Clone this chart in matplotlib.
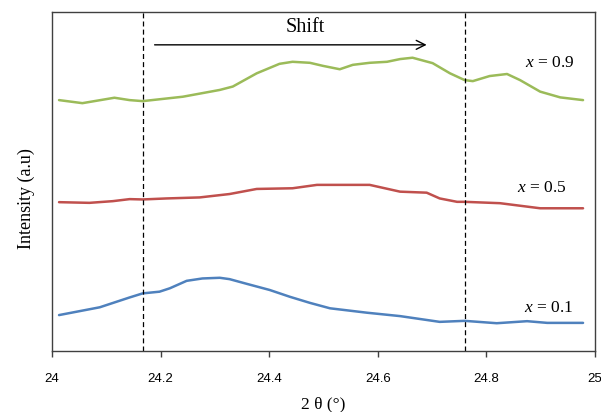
#!/usr/bin/env python3
"""XRD peak shift around 24-25 degrees for three compositions."""

import matplotlib

matplotlib.use("Agg")

import matplotlib.pyplot as plt

# 2theta positions (deg) and intensities (a.u.)
theta_09 = [24.013, 24.056, 24.115, 24.143, 24.167, 24.241, 24.309, 24.333, 24.377,
            24.419, 24.443, 24.475, 24.499, 24.530, 24.554, 24.585, 24.617, 24.641,
            24.664, 24.701, 24.733, 24.760, 24.775, 24.806, 24.838, 24.862, 24.899,
            24.936, 24.978]
int_09 = [74.0, 73.1, 74.7, 74.0, 73.7, 75.0, 77.0, 78.0, 81.9,
          84.7, 85.3, 85.0, 84.1, 83.1, 84.4, 85.0, 85.3, 86.1,
          86.5, 84.9, 81.9, 79.9, 79.6, 81.1, 81.7, 79.9, 76.5,
          74.8, 74.0]

theta_05 = [24.013, 24.069, 24.112, 24.143, 24.167, 24.211, 24.272, 24.327, 24.377,
            24.443, 24.488, 24.535, 24.585, 24.641, 24.690, 24.714, 24.746, 24.760,
            24.825, 24.899, 24.978]
int_05 = [43.9, 43.7, 44.2, 44.8, 44.7, 45.0, 45.3, 46.3, 47.8,
          48.0, 49.0, 49.0, 49.0, 47.0, 46.7, 45.0, 44.0, 44.0,
          43.6, 42.1, 42.1]

theta_01 = [24.013, 24.088, 24.143, 24.167, 24.198, 24.217, 24.248, 24.277, 24.309,
            24.327, 24.359, 24.401, 24.438, 24.475, 24.512, 24.580, 24.641, 24.714,
            24.760, 24.819, 24.875, 24.912, 24.978]
int_01 = [10.6, 12.9, 15.8, 17.0, 17.5, 18.5, 20.7, 21.4, 21.6,
          21.2, 19.8, 18.0, 16.0, 14.2, 12.6, 11.3, 10.3, 8.6,
          8.9, 8.2, 8.8, 8.3, 8.3]

series = [
    (theta_09, int_09, "#9bbb59", "$x$ = 0.9", 24.917, 85.0),
    (theta_05, int_05, "#c0504d", "$x$ = 0.5", 24.902, 48.1),
    (theta_01, int_01, "#4f81bd", "$x$ = 0.1", 24.915, 12.7),
]

peak_lines = [24.167, 24.760]
shift_start, shift_end = 24.189, 24.690
x_ticks = [24, 24.2, 24.4, 24.6, 24.8, 25]
x_tick_labels = ["24", "24.2", "24.4", "24.6", "24.8", "25"]

plt.rcParams["mathtext.fontset"] = "custom"
plt.rcParams["mathtext.rm"] = "Liberation Serif"
plt.rcParams["mathtext.it"] = "Liberation Serif:italic"

SERIF = "Liberation Serif"

fig = plt.figure(figsize=(6.01, 4.12), dpi=100)
ax = fig.add_axes([0.0865, 0.148, 0.9035, 0.823])

for theta, inten, color, label, lx, ly in series:
    ax.plot(theta, inten, color=color, linewidth=1.8, solid_joinstyle="round",
            solid_capstyle="round")
    ax.text(lx, ly, label, family=SERIF, fontsize=12.5, ha="center", va="center")

for xv in peak_lines:
    ax.axvline(xv, color="black", linestyle=(0, (4, 2.5)), linewidth=0.9)

ax.annotate("", xy=(shift_end, 90.3), xytext=(shift_start, 90.3),
            arrowprops=dict(arrowstyle="->", color="black", linewidth=1.0,
                            mutation_scale=16, shrinkA=0, shrinkB=0))
ax.text(24.467, 95.3, "Shift", family=SERIF, fontsize=14.5, ha="center",
        va="center")

ax.set_xlim(24, 25)
ax.set_ylim(0, 100)
ax.set_xticks(x_ticks)
ax.set_xticklabels(x_tick_labels, family="Liberation Sans", fontsize=9.5)
ax.set_yticks([])
ax.tick_params(axis="x", direction="out", length=4, width=1, color="#404040", pad=12)

for spine in ax.spines.values():
    spine.set_color("#404040")
    spine.set_linewidth(1.0)

ax.set_xlabel("2 θ (°)", family=SERIF, fontsize=12.5)
ax.xaxis.set_label_coords(0.5, -0.135)
ax.set_ylabel("Intensity (a.u)", family=SERIF, fontsize=13, va="center")
ax.yaxis.set_label_coords(-0.047, 0.45)

fig.savefig("out.png", dpi=100)
plt.close(fig)
